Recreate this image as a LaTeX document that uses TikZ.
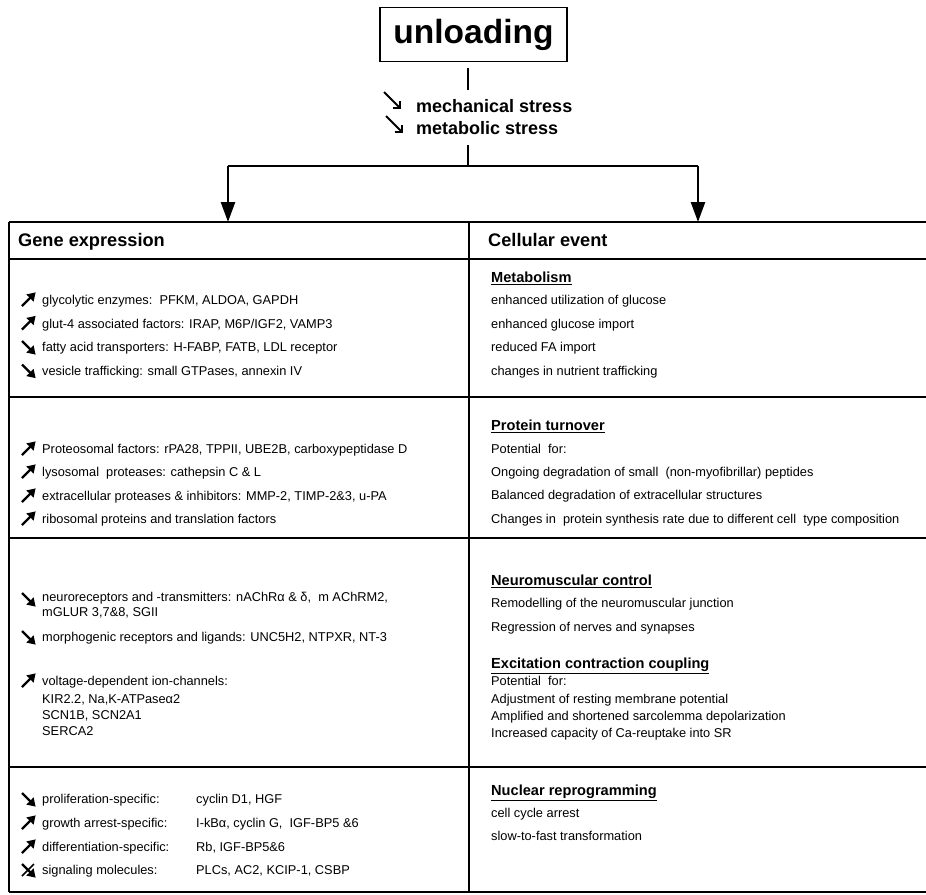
\documentclass[tikz,border=0pt]{standalone}
\usepackage{fontspec}
\setmainfont{Liberation Sans}
\usetikzlibrary{positioning,arrows.meta}

\begin{document}
\begin{tikzpicture}[
      x=1pt, y=-1pt,
      topbox/.style = {draw, line width=1.8pt, minimum width=187pt, minimum height=54pt,
                       inner sep=0pt, font=\fontsize{33.5}{36}\selectfont\bfseries},
      stress/.style = {anchor=base west, inner sep=0pt, font=\fontsize{18}{20}\selectfont\bfseries},
      hdr/.style    = {anchor=base west, inner sep=0pt, font=\fontsize{18.2}{20}\selectfont\bfseries},
      sec/.style    = {anchor=base west, inner sep=0pt, font=\fontsize{14.6}{17}\selectfont\bfseries},
      txt/.style    = {anchor=base west, inner sep=0pt, font=\fontsize{12.8}{15}\selectfont},
      rule/.style   = {line width=1.5pt},
      hrule/.style  = {line width=2.8pt},
      trunk/.style  = {line width=2.5pt},
      feed/.style   = {line width=2.5pt, -{Triangle[length=20pt, width=14pt]}},
      glyph/.style  = {line width=2.4pt, line join=miter},
      thin/.style   = {line width=1.9pt, line join=miter},
      incr/.pic     = {\draw[glyph] (-6,6) -- (5,-5);
                       \filldraw[line width=1.2pt, line join=miter] (-0.5,-5.2) -- (6.8,-6.8) -- (5.2,0.5) -- (2.5,-2.5) -- cycle;},
      decr/.pic     = {\draw[glyph] (-6,-6) -- (5,5);
                       \filldraw[line width=1.2pt, line join=miter] (-0.5,5.2) -- (6.8,6.8) -- (5.2,-0.5) -- (2.5,2.5) -- cycle;},
      nochg/.pic    = {\draw[glyph] (-6,-6) -- (5,5);
                       \filldraw[line width=1.2pt, line join=miter] (-0.5,5.2) -- (6.8,6.8) -- (5.2,-0.5) -- (2.5,2.5) -- cycle;
                       \draw[line width=1.5pt] (-6,6) -- (6,-6);},
      lower/.pic    = {\draw[thin] (-8,-8) -- (7.5,7.5);
                       \draw[thin] (0.5,8) -- (8,8) -- (8,0.5);},
    ]
    \useasboundingbox (0,0) rectangle (926,894);

    %% ------------------------------------------------ trigger
    \node[topbox] (unl) at (473.5,34.5) {unloading};
    \coordinate (s1) at (468,68);
    \coordinate (s2) at (468,90);
    \coordinate (s3) at (468,145);
    \coordinate (split) at (468,166);
    \coordinate (lft) at (228,166);
    \coordinate (rgt) at (698,166);
    \coordinate (lin) at (228,222);
    \coordinate (rin) at (698,222);
    \draw[trunk] (s1) -- (s2);
    \pic at (392,100) {lower};
    \pic at (394,124) {lower};
    \node[stress] (mech) at (416,112.5) {mechanical stress};
    \node[stress] (meta) at (416,134.5) {metabolic stress};
    \draw[trunk] (s3) -- (split);
    \draw[trunk] (lft) -- (rgt);
    \draw[feed] (lft) -- (lin);
    \draw[feed] (rgt) -- (rin);

    %% ------------------------------------------------ table frame
    \draw[rule] (9,222) -- (927,222);
    \draw[hrule] (9,259) -- (927,259);
    \draw[rule] (9,397) -- (927,397);
    \draw[rule] (9,538) -- (927,538);
    \draw[rule] (9,767) -- (927,767);
    \draw[rule] (9,892) -- (927,892);
    \draw[rule] (9,222) -- (9,892);
    \draw[rule] (469,222) -- (469,892);

    \node[hdr] (gene) at (18,246) {Gene expression};
    \node[hdr] (cell) at (488,246) {Cellular event};

    %% ------------------------------------------------ metabolism
    \pic at (28,300) {incr};
    \pic at (28,323.5) {incr};
    \pic at (28,347) {decr};
    \pic at (28,370.5) {decr};
    \node[txt] (ga1) at (42,304.6) {glycolytic enzymes:\ \ PFKM, ALDOA, GAPDH};
    \node[txt] (ga2) at (42,328.1) {glut-4 associated factors: IRAP, M6P/IGF2, VAMP3};
    \node[txt] (ga3) at (42,351.6) {fatty acid transporters: H-FABP, FATB, LDL receptor};
    \node[txt] (ga4) at (42,375.1) {vesicle trafficking: small GTPases, annexin IV};
    \node[sec] (ca0) at (491,282.3) {\underline{Metabolism}};
    \node[txt] (ca1) at (491,304.6) {enhanced utilization of glucose};
    \node[txt] (ca2) at (491,328.1) {enhanced glucose import};
    \node[txt] (ca3) at (491,351.6) {reduced FA import};
    \node[txt] (ca4) at (491,375.1) {changes in nutrient trafficking};

    %% ------------------------------------------------ protein turnover
    \pic at (28,449) {incr};
    \pic at (28,472) {incr};
    \pic at (28,496) {incr};
    \pic at (28,519) {incr};
    \node[txt] (gb1) at (42,453.6) {Proteosomal factors: rPA28, TPPII, UBE2B,\ carboxypeptidase D};
    \node[txt] (gb2) at (42,476.6) {lysosomal\ \ proteases: cathepsin C \& L};
    \node[txt] (gb3) at (42,500.6) {extracellular proteases \& inhibitors: MMP-2, TIMP-2\&3, u-PA};
    \node[txt] (gb4) at (42,523.6) {ribosomal proteins and translation factors};
    \node[sec] (cb0) at (491,430.3) {\underline{Protein turnover}};
    \node[txt] (cb1) at (491,453.6) {Potential\ \ for:};
    \node[txt] (cb2) at (491,476.6) {Ongoing degradation of small\ \ (non-myofibrillar) peptides};
    \node[txt] (cb3) at (491,499.6) {Balanced degradation of extracellular structures};
    \node[txt] (cb4) at (491,523.6) {Changes in\ \ protein synthesis rate due to different cell\ \ type composition};

    %% ------------------------------------------------ neuromuscular / excitation
    \pic at (28,599) {decr};
    \pic at (28,637) {decr};
    \pic at (28,681) {incr};
    \node[txt] (gc1) at (42,601.6) {neuroreceptors and -transmitters: nAChRα \& δ,\ \ m AChRM2,};
    \node[txt] (gc2) at (42,616.6) {mGLUR 3,7\&8, SGII};
    \node[txt] (gc3) at (42,641.6) {morphogenic receptors and ligands: UNC5H2, NTPXR, NT-3};
    \node[txt] (gc4) at (42,685.6) {voltage-dependent ion-channels:};
    \node[txt] (gc5) at (42,703.6) {KIR2.2, Na,K-ATPaseα2};
    \node[txt] (gc6) at (42,719.6) {SCN1B, SCN2A1};
    \node[txt] (gc7) at (42,735.6) {SERCA2};
    \node[sec] (cc0) at (491,585.3) {\underline{Neuromuscular control}};
    \node[txt] (cc1) at (491,607.6) {Remodelling of the neuromuscular junction};
    \node[txt] (cc2) at (491,631.6) {Regression of nerves and synapses};
    \node[sec] (cd0) at (491,668.3) {\underline{Excitation contraction coupling}};
    \node[txt] (cd1) at (491,685.6) {Potential\ \ for:};
    \node[txt] (cd2) at (491,703.6) {Adjustment of resting membrane potential};
    \node[txt] (cd3) at (491,720.6) {Amplified and shortened sarcolemma depolarization};
    \node[txt] (cd4) at (491,737.6) {Increased capacity of Ca-reuptake into SR};

    %% ------------------------------------------------ nuclear reprogramming
    \pic at (28,799) {decr};
    \pic at (28,823) {incr};
    \pic at (28,847) {incr};
    \pic at (28,870) {nochg};
    \node[txt] (ge1) at (42,803.6) {proliferation-specific:};
    \node[txt] (ge2) at (42,827.6) {growth arrest-specific:};
    \node[txt] (ge3) at (42,851.6) {differentiation-specific:};
    \node[txt] (ge4) at (42,874.6) {signaling molecules:};
    \node[txt] (gf1) at (196,803.6) {cyclin D1, HGF};
    \node[txt] (gf2) at (196,827.6) {I-kBα, cyclin G,\ \ IGF-BP5 \&6};
    \node[txt] (gf3) at (196,851.6) {Rb, IGF-BP5\&6};
    \node[txt] (gf4) at (196,874.6) {PLCs, AC2, KCIP-1, CSBP};
    \node[sec] (ce0) at (491,795.3) {\underline{Nuclear reprogramming}};
    \node[txt] (ce1) at (491,817.6) {cell cycle arrest};
    \node[txt] (ce2) at (491,840.6) {slow-to-fast transformation};
  \end{tikzpicture}
\end{document}
